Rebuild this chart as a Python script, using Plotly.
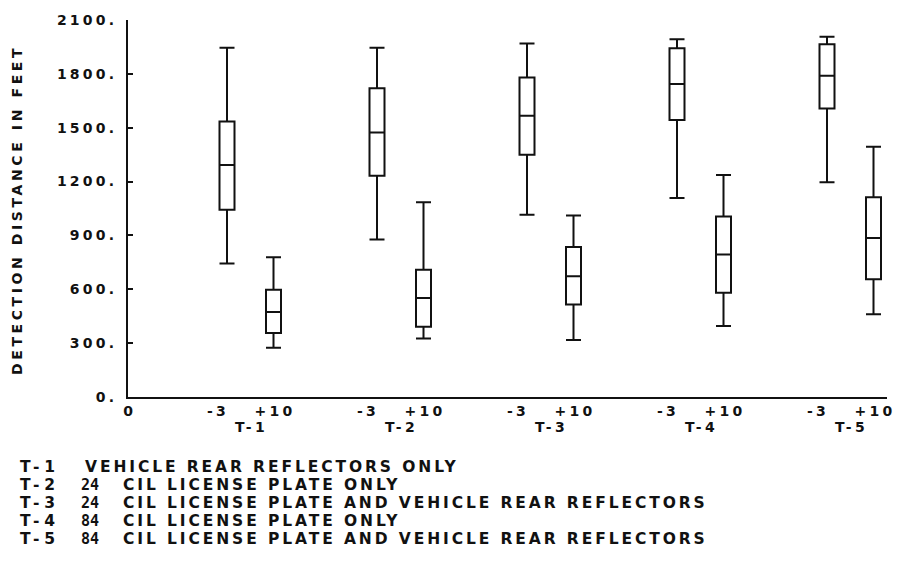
import plotly.graph_objects as go

# ---------------- data ----------------
groups = ["T-1", "T-2", "T-3", "T-4", "T-5"]
conditions = ["-3", "+10"]

# condition "-3"
m3_upper = [1946, 1946, 1969, 1993, 2007]
m3_q3 = [1535, 1720, 1780, 1943, 1965]
m3_median = [1293, 1474, 1567, 1743, 1789]
m3_q1 = [1043, 1233, 1350, 1543, 1607]
m3_lower = [743, 878, 1015, 1109, 1196]

# condition "+10"
p10_upper = [779, 1085, 1011, 1237, 1394]
p10_q3 = [598, 709, 835, 1006, 1113]
p10_median = [474, 552, 672, 794, 885]
p10_q1 = [357, 391, 515, 581, 656]
p10_lower = [274, 326, 317, 396, 461]

y_ticks = [0, 300, 600, 900, 1200, 1500, 1800, 2100]
y_ticktext = ["0.", "300.", "600.", "900.", "1200.", "1500.", "1800.", "2100."]

legend_codes = ["T-1", "T-2", "T-3", "T-4", "T-5"]
legend_sizes = ["", "24", "24", "84", "84"]
legend_desc = [
    "VEHICLE REAR REFLECTORS ONLY",
    "CIL LICENSE PLATE ONLY",
    "CIL LICENSE PLATE AND VEHICLE REAR REFLECTORS",
    "CIL LICENSE PLATE ONLY",
    "CIL LICENSE PLATE AND VEHICLE REAR REFLECTORS",
]

y_title = "DETECTION DISTANCE IN FEET"

# ---------------- layout ----------------
OFF = 8                      # page body margin
W, H = 893, 545
PLOT_L, PLOT_R, PLOT_T, PLOT_B = 128, 887, 20, 397   # plot area in page pixels
L, T = PLOT_L - OFF, PLOT_T - OFF
R, B = W - (PLOT_R - OFF), H - (PLOT_B - OFF)
PW, PH = PLOT_R - PLOT_L, PLOT_B - PLOT_T
FONT = "DejaVu Sans"
INK = "#111111"
BOLD = dict(family=FONT, color=INK, weight="bold")


def sp(text, ls=3):
    return f"<span style='letter-spacing:{ls}px'>{text}</span>"


def px_x(px):
    return (px - PLOT_L) / PW


def px_y(py):
    return (PLOT_B - py) / PH


offsets = {"-3": -0.34, "+10": -0.03}
label_offsets = {"-3": -0.40, "+10": -0.02}
group_label_offset = -0.18
x_m3 = [i + 1 + offsets["-3"] for i in range(len(groups))]
x_p10 = [i + 1 + offsets["+10"] for i in range(len(groups))]

box_style = dict(
    line=dict(color=INK, width=2),
    fillcolor="rgba(255,255,255,0)",
    whiskerwidth=1,
    width=0.1,
    boxpoints=False,
    hoverinfo="skip",
    showlegend=False,
)

fig = go.Figure()
fig.add_trace(go.Box(x=x_m3, q1=m3_q1, median=m3_median, q3=m3_q3,
                     lowerfence=m3_lower, upperfence=m3_upper, name="-3", **box_style))
fig.add_trace(go.Box(x=x_p10, q1=p10_q1, median=p10_median, q3=p10_q3,
                     lowerfence=p10_lower, upperfence=p10_upper, name="+10", **box_style))

tickvals = [0]
ticktext = [sp("0", 0)]
for i in range(len(groups)):
    for c in conditions:
        tickvals.append(i + 1 + label_offsets[c])
        ticktext.append(sp(c, 3.3))

fig.update_layout(
    width=W, height=H,
    margin=dict(l=L, r=R, t=T, b=B, autoexpand=False),
    paper_bgcolor="white", plot_bgcolor="white",
    font=dict(size=14, **BOLD),
    xaxis=dict(range=[0, PW / 150], showgrid=False, zeroline=False,
               showline=True, linecolor=INK, linewidth=2,
               tickvals=tickvals, ticktext=ticktext, ticks="",
               tickfont=dict(size=14, **BOLD), automargin=False),
    yaxis=dict(range=[0, 2100], showgrid=False, zeroline=False,
               showline=True, linecolor=INK, linewidth=2,
               tickvals=y_ticks, ticktext=[sp(t, 3.2) for t in y_ticktext],
               ticks="inside", ticklen=5, tickwidth=2, tickcolor=INK,
               tickfont=dict(size=14, **BOLD),
               ticklabelstandoff=6, automargin=False),
)

annotations = []
# y-axis title
annotations.append(dict(text=sp(y_title, 3.6), xref="paper", yref="paper",
                        x=px_x(7), y=px_y(210), textangle=-90, showarrow=False,
                        font=dict(size=14, **BOLD)))
# group labels under the axis
for i, g in enumerate(groups):
    annotations.append(dict(text=sp(g, 3.3), xref="x", yref="paper",
                            x=i + 1 + group_label_offset, y=px_y(437), showarrow=False,
                            font=dict(size=14, **BOLD)))
# legend block
line_y = [478, 496, 514, 532, 550]
for code, size, desc, yy in zip(legend_codes, legend_sizes, legend_desc, line_y):
    annotations.append(dict(text=sp(code, 4.8), xref="paper", yref="paper",
                            x=px_x(18), y=px_y(yy), xanchor="left", showarrow=False,
                            font=dict(size=15.5, **BOLD)))
    if size:
        annotations.append(dict(text=size, xref="paper", yref="paper",
                                x=px_x(79), y=px_y(yy), xanchor="left", showarrow=False,
                                font=dict(family="DejaVu Sans Mono", size=15, color=INK)))
        dx = 121
    else:
        dx = 83
    annotations.append(dict(text=sp(desc, 2.9), xref="paper", yref="paper",
                            x=px_x(dx), y=px_y(yy), xanchor="left", showarrow=False,
                            font=dict(size=15.5, **BOLD)))

fig.update_layout(annotations=annotations)
fig.write_html("out.html")
